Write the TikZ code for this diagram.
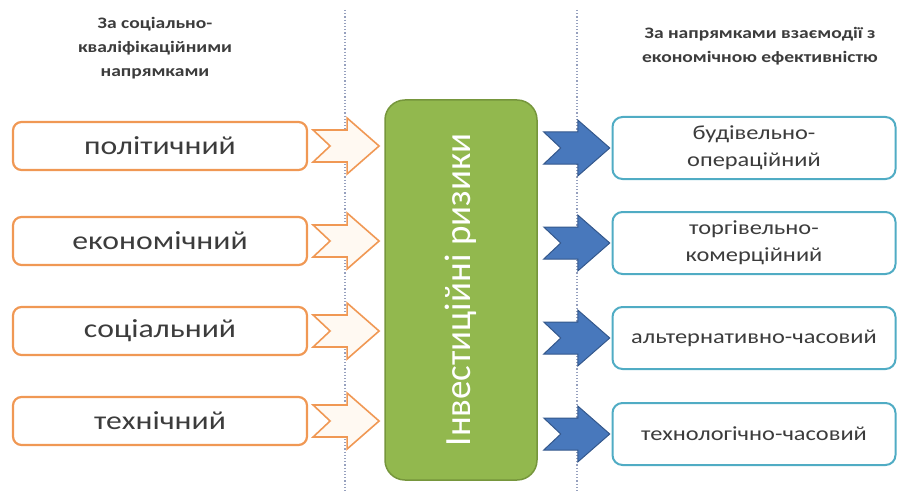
\documentclass[tikz,border=0pt]{standalone}
\usepackage{fontspec}
\setmainfont{Carlito}[FakeStretch=1.22]
\newfontfamily\riskFont{Carlito}
\usepackage{tikz}
\usetikzlibrary{calc}
\definecolor{orangeLine}{RGB}{240,152,84}
\definecolor{orangeFill}{RGB}{255,249,242}
\definecolor{riskGreen}{RGB}{146,184,78}
\definecolor{riskGreenLine}{RGB}{118,150,60}
\definecolor{arrowBlue}{RGB}{72,120,188}
\definecolor{arrowBlueLine}{RGB}{52,88,140}
\definecolor{tealLine}{RGB}{80,172,196}
\definecolor{textGray}{RGB}{60,60,60}
\definecolor{sepColor}{RGB}{150,160,190}
\tikzstyle{leftBox} = [draw=orangeLine, line width=2.2pt, fill=white, rounded corners=.3cm, minimum width=294pt, minimum height=48pt, text=textGray, font=\fontsize{26}{28}\selectfont]
\tikzstyle{rightBox} = [draw=tealLine, line width=2pt, fill=white, rounded corners=.35cm, minimum width=283pt, minimum height=62pt, align=center, text=textGray, font=\fontsize{20}{27}\selectfont]
\tikzstyle{riskBox} = [draw=riskGreenLine, line width=1.5pt, fill=riskGreen, rounded corners=.7cm, rotate=90, minimum width=380pt, minimum height=152pt, text=white, font=\riskFont\fontsize{37}{40}\selectfont]
\tikzstyle{orangeArrow} = [draw=orangeLine, line width=1.6pt, fill=orangeFill, line join=miter]
\tikzstyle{blueArrow} = [draw=arrowBlueLine, line width=1pt, fill=arrowBlue, line join=miter]
\tikzstyle{sepLine} = [color=sepColor, dotted, line width=1.2pt]
\tikzstyle{headText} = [align=center, text=textGray, font=\bfseries\fontsize{16}{24}\selectfont]
% notched block arrow: style, start coordinate (tail, on the axis)
\newcommand{\chevronArrow}[2]{\filldraw [#1] ($(#2)+(0,-16)$) -- ++(34,0) -- ++(0,-12) -- ++(32,28) -- ++(-32,28) -- ++(0,-12) -- ++(-34,0) -- ++(17,-16) -- cycle;}

\begin{document}
\begin{tikzpicture}[x=1pt, y=-1pt]
  \useasboundingbox (0,0) rectangle (899,492);
  \draw [sepLine] (345,10) -- (345,492);
  \draw [sepLine] (577,10) -- (577,492);

  \node [headText] (leftHead) at (155,48) {За соціально-\\кваліфікаційними\\напрямками};
  \node [headText] (rightHead) at (760,46) {За напрямками взаємодії з\\економічною ефективністю};

  \node [leftBox] (polit) at (160,146) {політичний};
  \node [leftBox] (econ) at (160,241) {економічний};
  \node [leftBox] (soc) at (160,331) {соціальний};
  \node [leftBox] (tech) at (160,421) {технічний};

  \node [riskBox] (risk) at (461,290) {Інвестиційні ризики};

  \node [rightBox] (bud) at (754,148) {будівельно-\\операційний};
  \node [rightBox] (torg) at (754,243) {торгівельно-\\комерційний};
  \node [rightBox] (alt) at (754,338) {альтернативно-часовий};
  \node [rightBox] (tehn) at (754,434) {технологічно-часовий};

  \foreach \src in {polit, econ, soc, tech} {
    \chevronArrow{orangeArrow}{$(\src.east)+(5,0)$}
  }
  \foreach \dst in {bud, torg, alt, tehn} {
    \chevronArrow{blueArrow}{$(risk.south |- \dst.west)+(6,0)$}
  }
\end{tikzpicture}
\end{document}
